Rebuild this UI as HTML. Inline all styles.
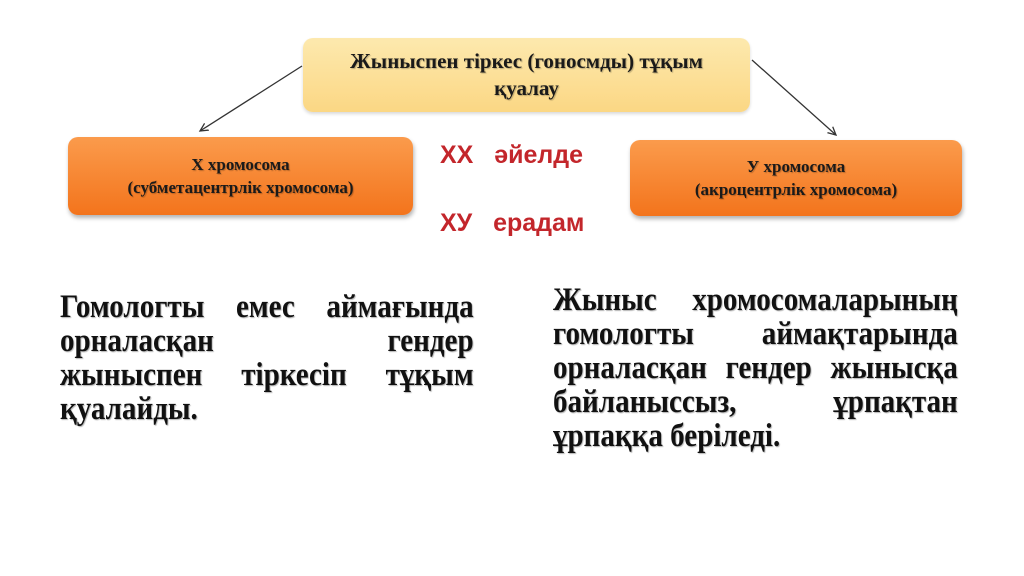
<!DOCTYPE html>
<html><head><meta charset="utf-8"><style>
body{margin:0;width:1024px;height:576px;background:#fff;position:relative;overflow:hidden;font-family:"Liberation Serif",serif;}
.box{position:absolute;border-radius:10px;text-align:center;font-weight:bold;color:#1a1a1a;display:flex;flex-direction:column;justify-content:center;text-shadow:1px 1px 1px rgba(0,0,0,.25);}
.top{left:303px;top:38px;width:447px;height:74px;background:linear-gradient(#fde9ae,#fbd784);font-size:21px;line-height:27px;box-shadow:0 2px 3px rgba(0,0,0,.15);}
.or{background:linear-gradient(#fb9b4c,#f3741c);font-size:17px;line-height:23px;box-shadow:1px 3px 4px rgba(0,0,0,.3);}
.red{position:absolute;font-family:"Liberation Sans",sans-serif;font-weight:bold;color:#c3262b;font-size:25px;}
.txt{position:absolute;font-weight:bold;font-size:33px;line-height:34px;color:#111;transform-origin:0 0;transform:scaleX(0.88);text-shadow:1px 1px 1px rgba(0,0,0,.3);}
.j{text-align:justify;text-align-last:justify;white-space:nowrap;}
</style></head><body>
<svg width="1024" height="576" style="position:absolute;left:0;top:0">
<defs><marker id="a" markerWidth="10" markerHeight="10" refX="8" refY="5" orient="auto" markerUnits="userSpaceOnUse"><path d="M0,1 L8,5 L0,9" fill="none" stroke="#333" stroke-width="1.3"/></marker></defs>
<line x1="302" y1="66" x2="200" y2="131" stroke="#333" stroke-width="1.3" marker-end="url(#a)"/>
<line x1="752" y1="60" x2="836" y2="135" stroke="#333" stroke-width="1.3" marker-end="url(#a)"/>
</svg>
<div class="box top"><div>Жыныспен тіркес (гоносмды) тұқым</div><div>қуалау</div></div>
<div class="box or" style="left:68px;top:137px;width:345px;height:78px;"><div>Х хромосома</div><div>(субметацентрлік хромосома)</div></div>
<div class="box or" style="left:630px;top:140px;width:332px;height:76px;"><div>У хромосома</div><div>(акроцентрлік хромосома)</div></div>
<div class="red" style="left:440px;top:141px;">XX&nbsp;&nbsp;&nbsp;әйелде</div>
<div class="red" style="left:440px;top:209px;">ХУ&nbsp;&nbsp;&nbsp;ерадам</div>
<div class="txt" style="left:60px;top:290px;width:470px;">
<div class="j">Гомологты емес аймағында</div>
<div class="j">орналасқан гендер</div>
<div class="j">жыныспен тіркесіп тұқым</div>
<div>қуалайды.</div>
</div>
<div class="txt" style="left:553px;top:283px;width:460px;">
<div class="j">Жыныс хромосомаларының</div>
<div class="j">гомологты аймақтарында</div>
<div class="j">орналасқан гендер жынысқа</div>
<div class="j">байланыссыз, ұрпақтан</div>
<div>ұрпаққа беріледі.</div>
</div>
</body></html>
